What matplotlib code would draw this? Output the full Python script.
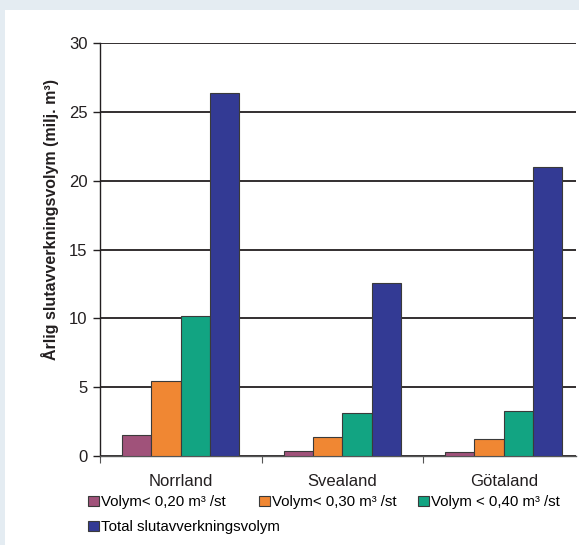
import numpy as np
import matplotlib.pyplot as plt
from matplotlib.patches import Rectangle

plt.rcParams['font.family'] = ['Liberation Sans', 'DejaVu Sans']

# Annual final-felling volume per region and stem size class
regions = ['Norrland', 'Svealand', 'Götaland']
vol_020 = [1.5, 0.35, 0.3]
vol_030 = [5.45, 1.35, 1.25]
vol_040 = [10.2, 3.1, 3.3]
total = [26.4, 12.6, 21.0]

series = [vol_020, vol_030, vol_040, total]
labels = ['Volym< 0,20 m\u00b3 /st', 'Volym< 0,30 m\u00b3 /st',
          'Volym < 0,40 m\u00b3 /st', 'Total slutavverkningsvolym']
colors = ['#a0527a', '#f08733', '#12a482', '#333a94']

W, H = 579, 545
fig = plt.figure(figsize=(W / 100, H / 100), dpi=100, facecolor='#e4ecf2')
fig.patches.append(Rectangle((5 / W, 0), 1, 1 - 10 / H, transform=fig.transFigure,
                             facecolor='white', edgecolor='none', zorder=-1))

ax = fig.add_axes([100 / W, (H - 456) / H, 476 / W, (456 - 43) / H])
ax.set_facecolor('none')

x = np.arange(len(regions))
bw = 0.1815
handles = []
for i, (vals, c) in enumerate(zip(series, colors)):
    b = ax.bar(x + (i - 1.5) * bw, vals, bw, color=c, edgecolor='#3a3a3a',
               linewidth=0.8, zorder=3)
    handles.append(b)

ax.set_ylim(0, 30)
ax.set_yticks(np.arange(0, 31, 5))
ax.set_xlim(-0.5, 2.5 - 8.5 / 161.5)
ax.yaxis.grid(True, color='#231f20', linewidth=1.3, zorder=1)
ax.set_axisbelow(True)

# group boundaries as major ticks, region names as minor ticks
ax.set_xticks([-0.5, 0.5, 1.5])
ax.set_xticklabels([])
ax.set_xticks(x, minor=True)
ax.set_xticklabels(regions, minor=True)
ax.tick_params(axis='x', which='major', length=5, color='#555555', width=0.8)
ax.tick_params(axis='x', which='minor', length=0, pad=13, labelsize=12, labelcolor='#231f20')
ax.tick_params(axis='y', length=5, width=1.0, color='#231f20', labelsize=12,
               labelcolor='#231f20', pad=4)

for s in ['top', 'right']:
    ax.spines[s].set_visible(False)
ax.spines['left'].set_color('#231f20')
ax.spines['left'].set_linewidth(1.0)
ax.spines['bottom'].set_color('#555555')
ax.spines['bottom'].set_linewidth(1.0)

fig.text(50 / W, 1 - 219 / H, 'Årlig slutavverkningsvolym (milj. m\u00b3)', fontsize=11.5,
         fontweight='bold', color='#231f20', rotation=90, ha='center', va='center')

# legend entries laid out one by one below the plot
pos = [(88, 495), (259, 495), (418, 495), (88, 520)]
for h, lab, (px, py) in zip(handles, labels, pos):
    fig.legend([h], [lab], loc='upper left', bbox_to_anchor=(px / W, 1 - py / H),
               frameon=False, fontsize=10.8, handlelength=0.7, handleheight=0.7,
               handletextpad=0.15, borderpad=0, borderaxespad=0)

fig.savefig('out.png', dpi=100, facecolor=fig.get_facecolor())
